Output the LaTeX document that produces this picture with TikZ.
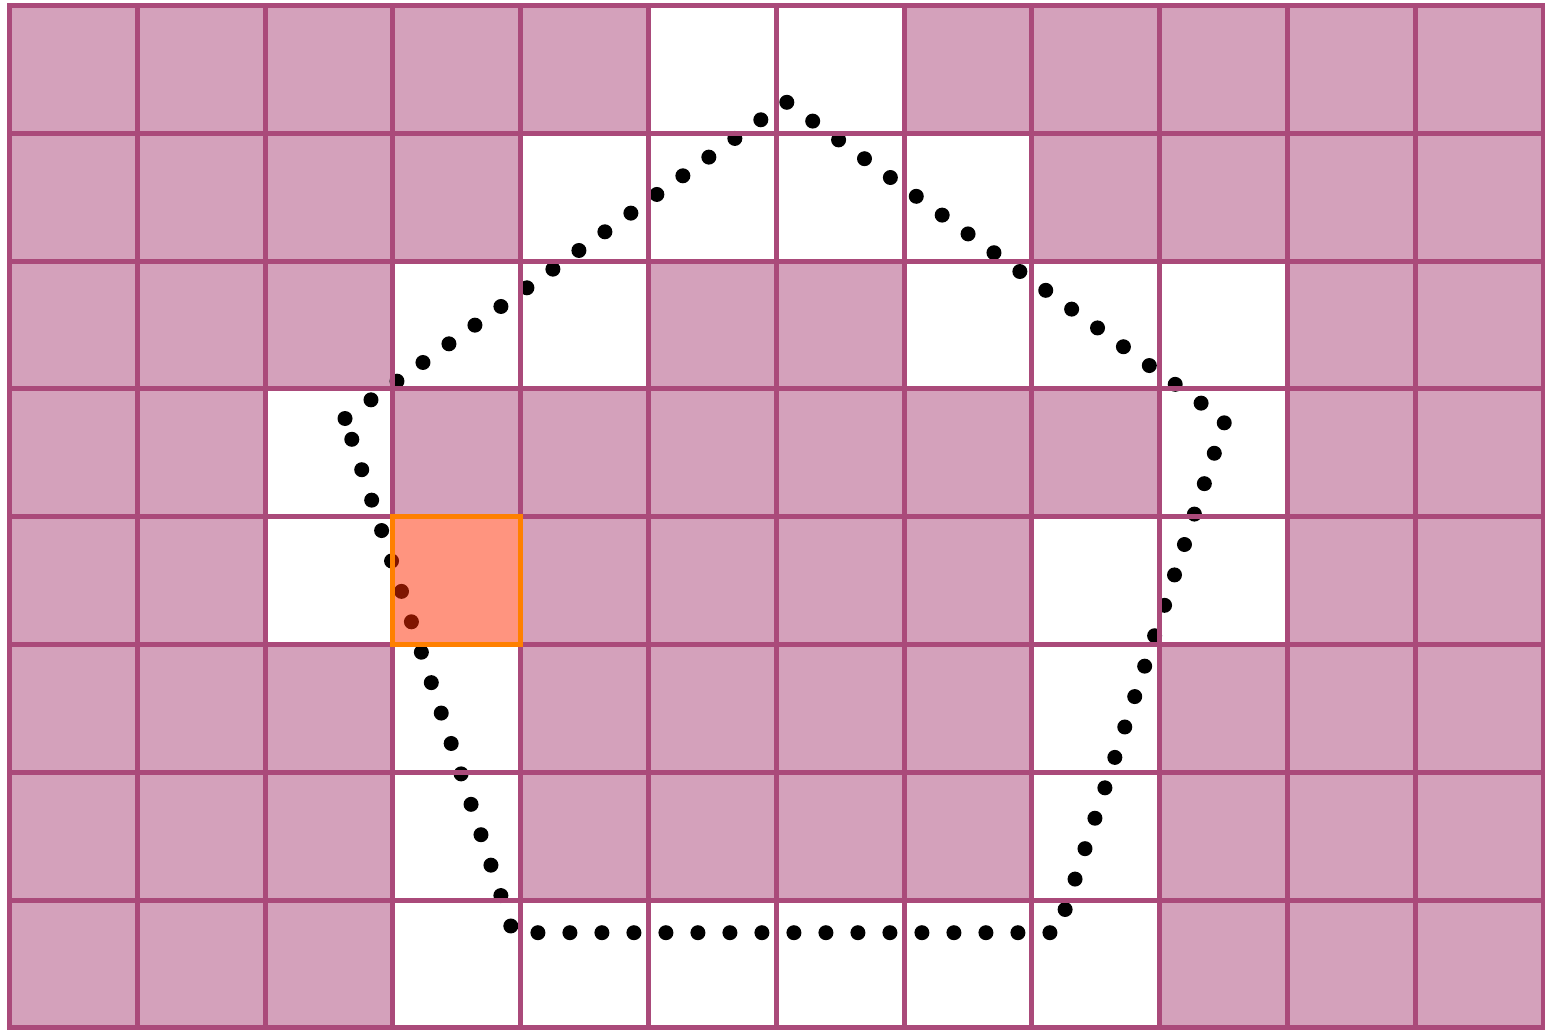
\documentclass[tikz,border=0pt]{standalone}
\definecolor{gridline}{RGB}{170,74,122}
\definecolor{cellpink}{RGB}{212,161,187}
\definecolor{hlfill}{RGB}{255,42,0}
\definecolor{hlborder}{RGB}{255,128,0}
\begin{document}
\begin{tikzpicture}[x=1pt,y=-1pt,
  gridln/.style={draw=gridline,line width=5pt,line cap=rect},
  dotline/.style={draw=black,line width=15pt,line cap=round,line join=round,dash pattern=on 0pt off 32pt},
  hlcell/.style={draw=hlborder,line width=5pt,fill=hlfill,fill opacity=0.5,minimum size=127.8pt,inner sep=0pt,outer sep=0pt}]
\useasboundingbox (0,0) rectangle (1545,1030);
\def\ox{9.5}\def\oy{5.5}\def\cs{127.8}
% background cells
\fill[cellpink] (\ox,\oy) rectangle ({\ox+12*\cs},{\oy+8*\cs});
\foreach \c/\r in {5/0,6/0,4/1,5/1,6/1,7/1,3/2,4/2,7/2,8/2,9/2,2/3,9/3,2/4,3/4,8/4,9/4,3/5,8/5,3/6,8/6,3/7,4/7,5/7,6/7,7/7,8/7}
  \fill[white] ({\ox+\c*\cs},{\oy+\r*\cs}) rectangle +(\cs,\cs);
% dotted pentagon
\coordinate (L) at (345,418.5);
\coordinate (T) at (786,101.7);
\coordinate (R) at (1225,420.5);
\coordinate (BR) at (1057.5,932.7);
\coordinate (BL) at (513,932.7);
\draw[dotline] (L) -- (T) -- (R) -- (BR) -- (BL) -- cycle;
% grid lines
\foreach \i in {0,...,12}
  \draw[gridln] ({\ox+\i*\cs},\oy) -- ({\ox+\i*\cs},{\oy+8*\cs});
\foreach \j in {0,...,8}
  \draw[gridln] (\ox,{\oy+\j*\cs}) -- ({\ox+12*\cs},{\oy+\j*\cs});
% highlighted cell
\node[hlcell] (hl) at ({\ox+3.5*\cs},{\oy+4.5*\cs}) {};
\end{tikzpicture}
\end{document}
